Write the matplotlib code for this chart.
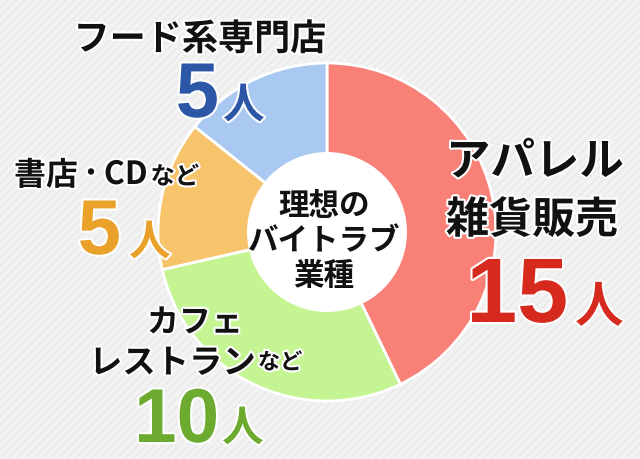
import matplotlib
matplotlib.use("Agg")
import matplotlib.pyplot as plt
from matplotlib.patches import Circle, Rectangle
import matplotlib.patheffects as pe

# ---- data ----
label_lines = [["アパレル", "雑貨販売"], ["カフェ", "レストラン"], ["書店", "・", "CD"], ["フード系専門店"]]
label_suffix = ["", "など", "など", ""]
values = [15, 10, 5, 5]
unit = "人"
center_title = ["理想の", "バイトラブ", "業種"]
wedge_colors = ["#f98077", "#c5f593", "#f8c46b", "#a9c8f2"]
number_colors = ["#d62a1f", "#6cab2f", "#e9a12a", "#2b57a6"]

JP = ["Noto Sans CJK JP", "DejaVu Sans"]
NUM = ["Liberation Sans", "DejaVu Sans"]
INK = "#111111"

plt.rcParams["hatch.linewidth"] = 0.8
fig = plt.figure(figsize=(6.4, 4.6), dpi=100)
fig.patch.set_facecolor("#f2f2f2")
ax = fig.add_axes([0, 0, 1, 1])
H = 460
ax.add_patch(Rectangle((0, 0), 640, H, facecolor="#f2f2f2", edgecolor="#e8e8e8",
                       hatch="////", linewidth=0, zorder=0))
cx, cy, R, r_in = 327, 233, 169, 80
ax.pie(values, colors=wedge_colors, startangle=90, counterclock=False,
       center=(cx, H - cy), radius=R,
       wedgeprops=dict(edgecolor="white", linewidth=2, zorder=2))
ax.add_patch(Circle((cx, H - cy), r_in, facecolor="white", edgecolor="none", zorder=5))
ax.set_xlim(0, 640)
ax.set_ylim(0, H)
ax.set_aspect("auto")
ax.axis("off")

stroke = [pe.withStroke(linewidth=3, foreground="white")]
renderer = fig.canvas.get_renderer()


def put(s, x, y, size, color=INK, ha="left", family=JP):
    return ax.text(x, H - y, s, fontsize=size, color=color, ha=ha, va="baseline",
                   family=family, fontweight="bold", path_effects=stroke, zorder=10)


def right_edge(t):
    bb = t.get_window_extent(renderer)
    return ax.transData.inverted().transform((bb.x1, bb.y0))[0]


# フード系専門店 (index 3)
put(label_lines[3][0], 200, 51, 26, ha="center")
put(str(values[3]), 219, 118, 56, number_colors[3], ha="right", family=NUM)
put(unit, 223, 119, 30, number_colors[3])

# 書店・CDなど (index 2)
t = put(label_lines[2][0], 14, 186, 23)
t = put(label_lines[2][1], right_edge(t) + 0.5, 182, 18)
t = put(label_lines[2][2], right_edge(t) + 0.5, 185, 23)
put(label_suffix[2], right_edge(t) + 3, 185, 17.5)
put(str(values[2]), 121, 255, 56, number_colors[2], ha="right", family=NUM)
put(unit, 129, 256, 30, number_colors[2])

# カフェ レストランなど (index 1)
put(label_lines[1][0], 195, 333, 23, ha="center")
t = put(label_lines[1][1], 89, 374, 24)
put(label_suffix[1], right_edge(t) + 2, 370, 16)
put(str(values[1]), 219, 443, 55, number_colors[1], ha="right", family=NUM)
put(unit, 222, 442, 30, number_colors[1])

# アパレル 雑貨販売 (index 0)
put(label_lines[0][0], 446, 176, 32)
put(label_lines[0][1], 446, 234, 31)
put(str(values[0]), 568, 323, 66, number_colors[0], ha="right", family=NUM)
put(unit, 575, 323, 35, number_colors[0])

# centre title
for line, yb in zip(center_title, [215, 250, 285]):
    ax.text(324, H - yb, line, fontsize=22, color=INK, ha="center", va="baseline",
            family=JP, fontweight="bold", zorder=10)

fig.savefig("out.png", dpi=100, facecolor=fig.get_facecolor())
